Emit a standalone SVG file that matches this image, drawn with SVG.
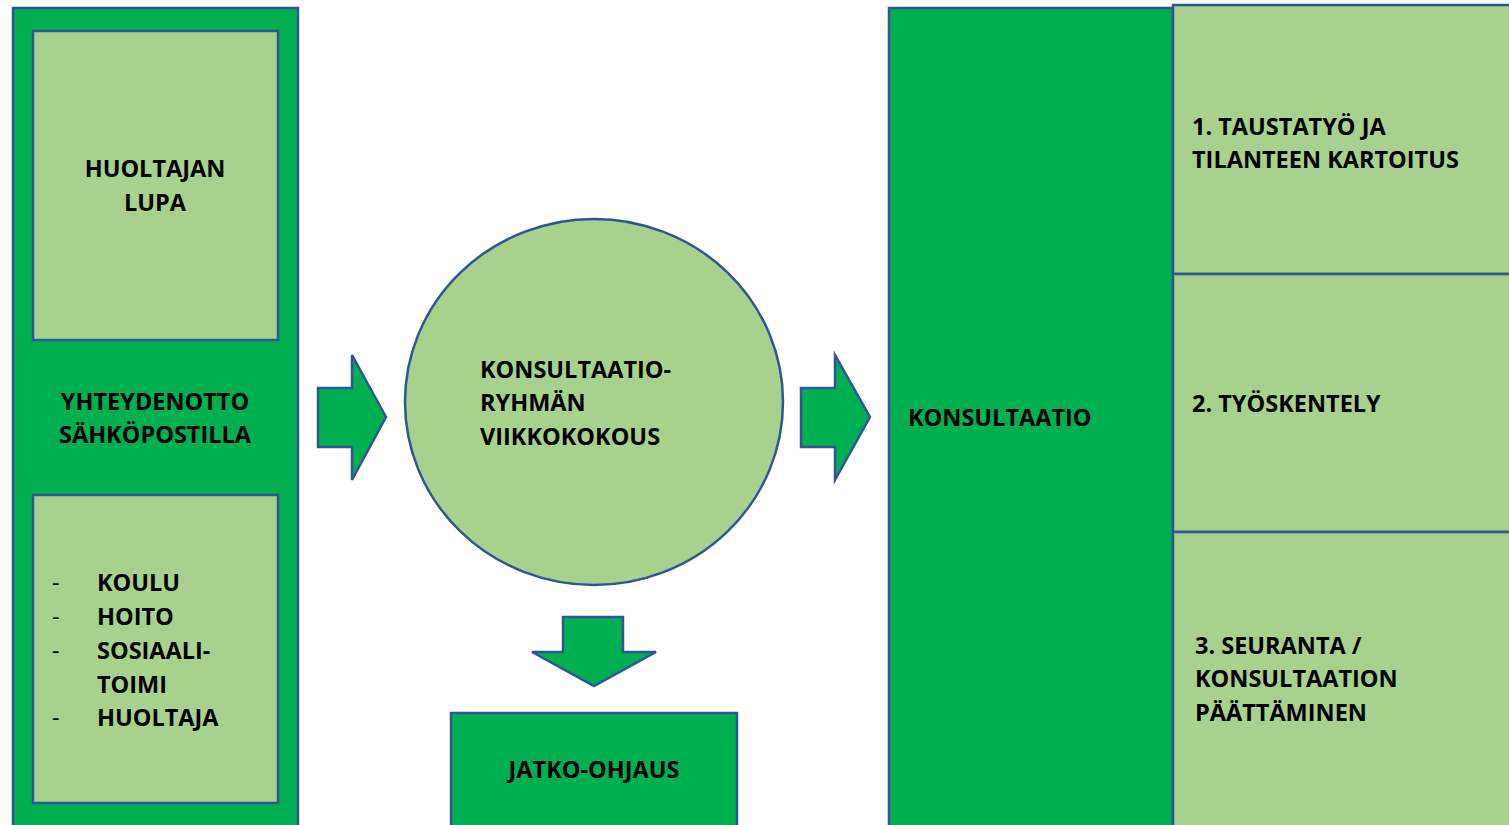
<svg xmlns="http://www.w3.org/2000/svg" width="1509" height="825" viewBox="0 0 1509 825">
<style>
.dk{fill:#00AF50;stroke:#2F5597;stroke-width:2.5}
.lt{fill:#A9D18E;stroke:#2F5597;stroke-width:2.5}
text{font-family:"Open Sans","Liberation Sans",sans-serif;font-weight:bold;font-size:23.5px;fill:#000}
.c{text-anchor:middle}
.d{font-weight:normal}
</style>
<rect width="1509" height="825" fill="#fff"/>
<g id="left-panel">
<rect class="dk" x="13" y="8" width="285" height="830"/>
<text class="c" x="155" y="410">YHTEYDENOTTO</text>
<text class="c" x="155" y="443">SÄHKÖPOSTILLA</text>
</g>
<g id="huoltajan-lupa">
<rect class="lt" x="33" y="31" width="245" height="309"/>
<text class="c" x="155" y="177">HUOLTAJAN</text>
<text class="c" x="155" y="211">LUPA</text>
</g>
<g id="tahot">
<rect class="lt" x="33" y="495" width="245" height="308"/>
<text class="d" x="52" y="591">-</text><text x="97" y="591">KOULU</text>
<text class="d" x="52" y="625">-</text><text x="97" y="625">HOITO</text>
<text class="d" x="52" y="659">-</text><text x="97" y="659">SOSIAALI-</text>
<text x="97" y="693">TOIMI</text>
<text class="d" x="52" y="726">-</text><text x="97" y="726">HUOLTAJA</text>
</g>
<g id="connectors">
<polygon class="dk" points="318,388 352,388 352,355 386,417 352,480 352,447 318,447"/>
<polygon class="dk" points="801,388 835,388 835,355 870,417 835,480 835,447 801,447"/>
<polygon class="dk" points="563,617 623,617 623,652 656,652 594,686 532,652 563,652"/>
</g>
<g id="viikkokokous">
<ellipse class="lt" cx="594" cy="402" rx="189" ry="183"/>
<text x="480" y="378">KONSULTAATIO-</text>
<text x="480" y="411">RYHMÄN</text>
<text x="480" y="445">VIIKKOKOKOUS</text>
</g>
<g id="jatko-ohjaus">
<rect class="dk" x="451" y="713" width="286" height="125"/>
<text class="c" x="594" y="778">JATKO-OHJAUS</text>
</g>
<g id="konsultaatio">
<rect class="dk" x="889" y="8" width="284" height="830"/>
<text x="908" y="426">KONSULTAATIO</text>
</g>
<g id="vaihe1">
<rect class="lt" x="1173" y="5" width="345" height="269"/>
<text x="1192" y="135">1. TAUSTATYÖ JA</text>
<text x="1192" y="168">TILANTEEN KARTOITUS</text>
</g>
<g id="vaihe2">
<rect class="lt" x="1173" y="274" width="345" height="258"/>
<text x="1192" y="412">2. TYÖSKENTELY</text>
</g>
<g id="vaihe3">
<rect class="lt" x="1173" y="532" width="345" height="306"/>
<text x="1195" y="654">3. SEURANTA /</text>
<text x="1195" y="687">KONSULTAATION</text>
<text x="1195" y="721">PÄÄTTÄMINEN</text>
</g>
</svg>
